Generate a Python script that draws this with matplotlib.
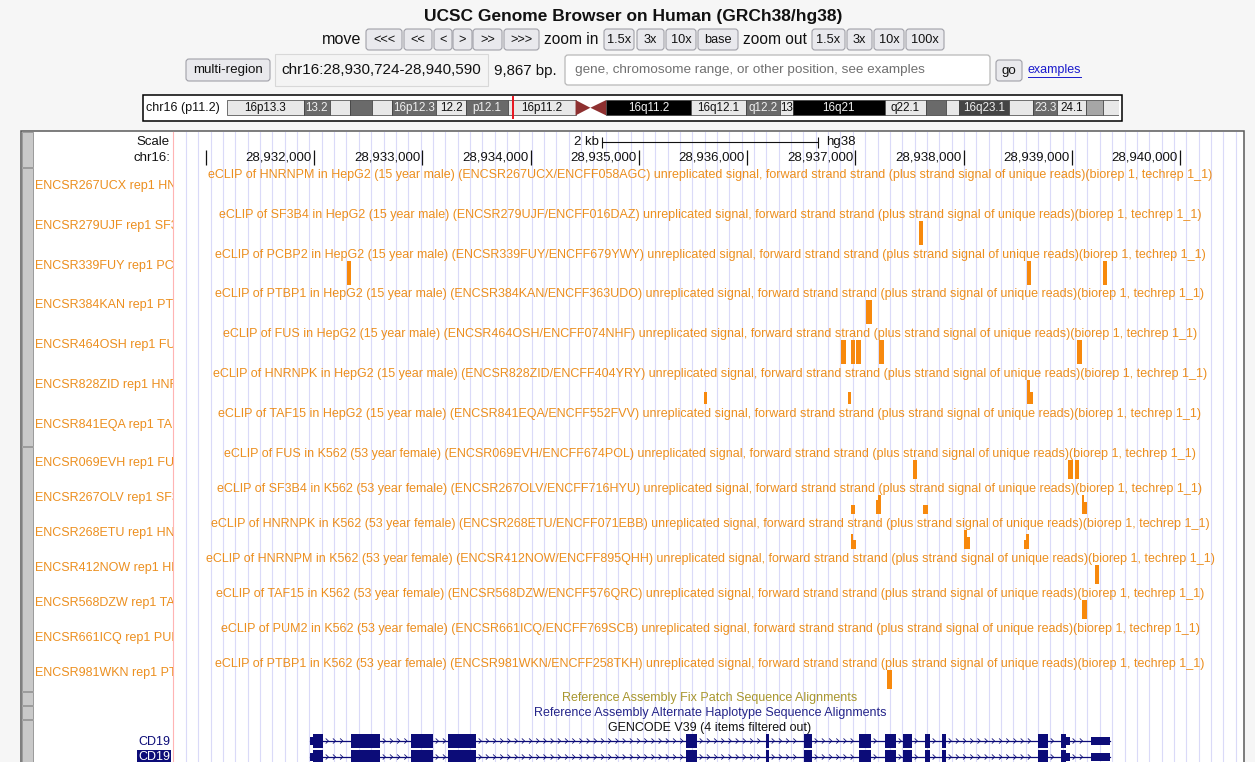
import matplotlib
matplotlib.use('Agg')
import matplotlib.pyplot as plt
from matplotlib.patches import Rectangle, FancyBboxPatch, Polygon
import numpy as np

plt.rcParams['font.family'] = ['Liberation Sans', 'DejaVu Sans']

W, H = 1255, 762

# browser window
chrom = 'chr16'
win_start, win_end = 28930724, 28940590
band_here = 'p11.2'

# chr16 cytobands (Mb)
band_start = [0.0, 7.8, 10.4, 12.5, 14.7, 16.7, 21.2, 24.2, 28.5, 35.3, 36.8, 38.4, 47.0,
              52.6, 56.0, 57.3, 66.6, 70.8, 72.8, 74.1, 79.2, 81.6, 84.1, 87.0, 88.7]
band_end = band_start[1:] + [90.338]
band_stain = ['gneg', 'gpos50', 'gneg', 'gpos50', 'gneg', 'gpos50', 'gneg', 'gpos50', 'gneg',
              'acen', 'acen', 'gvar', 'gneg', 'gpos50', 'gneg', 'gpos100', 'gneg', 'gpos50',
              'gneg', 'gpos75', 'gneg', 'gpos50', 'gneg', 'gpos25', 'gneg']
band_label = ['16p13.3', '13.2', '', '', '', '16p12.3', '12.2', 'p12.1', '16p11.2', '', '',
              '16q11.2', '16q12.1', 'q12.2', '13', '16q21', 'q22.1', '', '', '16q23.1', '',
              '23.3', '24.1', '', '']

# eCLIP signal tracks
cells = ['HepG2'] * 7 + ['K562'] * 7
proteins = ['HNRNPM', 'SF3B4', 'PCBP2', 'PTBP1', 'FUS', 'HNRNPK', 'TAF15',
            'FUS', 'SF3B4', 'HNRNPK', 'HNRNPM', 'TAF15', 'PUM2', 'PTBP1']
experiments = ['ENCSR267UCX', 'ENCSR279UJF', 'ENCSR339FUY', 'ENCSR384KAN', 'ENCSR464OSH',
               'ENCSR828ZID', 'ENCSR841EQA', 'ENCSR069EVH', 'ENCSR267OLV', 'ENCSR268ETU',
               'ENCSR412NOW', 'ENCSR568DZW', 'ENCSR661ICQ', 'ENCSR981WKN']
files = ['ENCFF058AGC', 'ENCFF016DAZ', 'ENCFF679YWY', 'ENCFF363UDO', 'ENCFF074NHF',
         'ENCFF404YRY', 'ENCFF552FVV', 'ENCFF674POL', 'ENCFF716HYU', 'ENCFF071EBB',
         'ENCFF895QHH', 'ENCFF576QRC', 'ENCFF769SCB', 'ENCFF258TKH']
donors = {'HepG2': '15 year male', 'K562': '53 year female'}

# (start, end, signal as fraction of view limit)
signals = [
    [],
    [(28937589, 28937626, 1.0)],
    [(28932305, 28932337, 1.0), (28938582, 28938619, 1.0), (28939289, 28939326, 1.0)],
    [(28937099, 28937155, 1.0)],
    [(28936868, 28936914, 1.0), (28936965, 28937002, 1.0), (28937011, 28937053, 1.0),
     (28937219, 28937265, 1.0), (28939044, 28939099, 1.0)],
    [(28935598, 28935626, 0.5), (28936937, 28936965, 0.5), (28938584, 28938610, 1.0),
     (28938610, 28938639, 0.5)],
    [],
    [(28937531, 28937573, 1.0), (28938968, 28939014, 1.0), (28939030, 28939070, 1.0)],
    [(28936958, 28937000, 0.45), (28937192, 28937213, 0.7), (28937213, 28937238, 1.0),
     (28937629, 28937672, 0.45), (28939092, 28939113, 1.0), (28939113, 28939138, 0.6)],
    [(28936965, 28936983, 0.75), (28936983, 28937006, 0.45), (28938005, 28938032, 1.0),
     (28938032, 28938060, 0.6), (28938559, 28938577, 0.45), (28938577, 28938608, 0.75)],
    [(28939212, 28939254, 1.0)],
    [(28939092, 28939138, 1.0)],
    [],
    [(28937290, 28937342, 1.0)],
]

# GENCODE V39 CD19 transcripts: exons (start, end) and coding span
gene_name = 'CD19'
exon_starts = [28931963, 28932342, 28932896, 28933238, 28935436, 28936175, 28936526, 28937034,
               28937275, 28937441, 28937644, 28937801, 28938688, 28938900, 28939178]
exon_ends = [28932083, 28932610, 28933099, 28933496, 28935538, 28936203, 28936600, 28937145,
             28937376, 28937524, 28937690, 28937838, 28938781, 28938983, 28939354]
cds_start, cds_end = 28931991, 28938946
n_transcripts = 2

ORANGE = '#f7890d'
ORANGE_TXT = '#ec8f1f'
NAVY = '#0c0c78'
GUIDE = '#dadaf8'
FS = 9.0

fig = plt.figure(figsize=(W / 100, H / 100), dpi=100)
fig.patch.set_facecolor('#f6f6f6')
page = fig.add_axes([0, 0, 1, 1])
page.set_xlim(0, W)
page.set_ylim(H, 0)
page.axis('off')
# text layer kept above every track axes
over = fig.add_axes([0, 0, 1, 1], zorder=5)
over.set_xlim(0, W)
over.set_ylim(H, 0)
over.axis('off')


def px_axes(x0, y0, x1, y1):
    ax = fig.add_axes([x0 / W, 1 - y1 / H, (x1 - x0) / W, (y1 - y0) / H])
    ax.axis('off')
    return ax


def button(x0, x1, y0, y1, label, fs=9.2):
    page.add_patch(FancyBboxPatch((x0, y0), x1 - x0, y1 - y0,
                                  boxstyle='round,pad=0,rounding_size=3',
                                  fc='#e9e9ed', ec='#a0a0a8', lw=0.8))
    page.text((x0 + x1) / 2, (y0 + y1) / 2 + 0.5, label, ha='center', va='center',
              fontsize=fs, color='#111')


# ---- header ----
page.text(633, 17, 'UCSC Genome Browser on Human (GRCh38/hg38)', ha='center', va='center',
          fontsize=12.5, fontweight='bold', color='#111')

page.text(361, 39.5, 'move', ha='right', va='center', fontsize=11.6, color='#111')
for lab, a, b in [('<<<', 366, 402), ('<<', 404, 432), ('<', 434, 452), ('>', 453, 472),
                  ('>>', 473, 502), ('>>>', 504, 539)]:
    button(a, b, 29, 50, lab)
page.text(571, 39.5, 'zoom in', ha='center', va='center', fontsize=11.2, color='#111')
for lab, a, b in [('1.5x', 604, 634), ('3x', 637, 664), ('10x', 666, 696), ('base', 698, 738)]:
    button(a, b, 29, 50, lab)
page.text(775, 39.5, 'zoom out', ha='center', va='center', fontsize=11.2, color='#111')
for lab, a, b in [('1.5x', 812, 845), ('3x', 847, 872), ('10x', 874, 904), ('100x', 906, 944)]:
    button(a, b, 29, 50, lab)

button(186, 270, 59, 81, 'multi-region', fs=9.6)
page.add_patch(Rectangle((275, 54), 213, 32, fc='#f4f4f4', ec='#d8d8d8', lw=0.8))
page.text(381.5, 70.5, f'{chrom}:{win_start:,}-{win_end:,}', ha='center', va='center',
          fontsize=11.0, color='#111')
page.text(494, 70.5, f'{win_end - win_start + 1:,} bp.', ha='left', va='center',
          fontsize=10.8, color='#111')
page.add_patch(FancyBboxPatch((565, 55), 425, 30, boxstyle='round,pad=0,rounding_size=3',
                              fc='white', ec='#b8b8b8', lw=0.9))
page.text(575, 70.5, 'gene, chromosome range, or other position, see examples', ha='left',
          va='center', fontsize=9.7, color='#707070')
button(996, 1022, 60, 81, 'go', fs=9.6)
page.text(1028, 70.5, 'examples', ha='left', va='center', fontsize=9, color='#1a1acc')
page.plot([1028, 1081], [77, 77], color='#1a1acc', lw=0.7)

# ---- ideogram ----
page.add_patch(Rectangle((143, 94.5), 979, 26.5, fc='white', ec='black', lw=1.1))
page.text(146, 108, f'{chrom} ({band_here})', ha='left', va='center', fontsize=9.0,
          color='#111')
ideo = px_axes(227, 94.5, 1119, 121)
ideo.set_xlim(0, band_end[-1])
ideo.set_ylim(1, 0)
shade = {'gneg': '#e8e8e8', 'gpos25': '#a6a6a6', 'gpos50': '#6a6a6a', 'gpos75': '#444444',
         'gpos100': '#000000', 'gvar': '#000000'}
top, bot = 0.21, 0.79
for s, e, st, lab, in zip(band_start, band_end, band_stain, band_label):
    if st == 'acen':
        continue
    ideo.add_patch(Rectangle((s, top), e - s, bot - top, fc=shade[st], ec='#3a3a3a', lw=0.5))
    if lab:
        dark = st in ('gpos50', 'gpos75', 'gpos100', 'gvar')
        ideo.text((s + e) / 2, 0.5, lab, ha='center', va='center', fontsize=8.4,
                  color='#f0f0f0' if dark else '#111')
acen = [(s, e) for s, e, st in zip(band_start, band_end, band_stain) if st == 'acen']
(p_s, p_e), (q_s, q_e) = acen
ideo.add_patch(Polygon([(p_s, top), (p_e, 0.5), (p_s, bot)], fc='#8e3030', ec='none'))
ideo.add_patch(Polygon([(q_e, top), (q_s, 0.5), (q_e, bot)], fc='#8e3030', ec='none'))
here_mb = (win_start + win_end) / 2e6
ideo.plot([here_mb, here_mb], [0.1, 0.9], color='#e8141e', lw=1.4)

# ---- track panel frame ----
page.add_patch(Rectangle((21, 131), 1223, 700, fc='white', ec='#5a5a5a', lw=1.1))
for y0, y1 in [(132, 167), (168, 446), (447, 691), (692, 705), (706, 719), (720, 800)]:
    page.add_patch(Rectangle((22, y0), 11, y1 - y0, fc='#c9c9c9', ec='#9a9a9a', lw=0.7))
page.plot([173, 173], [132, 762], color='#ffb4b4', lw=0.8)

px_per_bp = (1244 - 175.9) / (win_end - win_start + 1)
data_x0, data_x1 = 175.9, 1244
guides = px_axes(data_x0, 132, data_x1, 762)
guides.set_xlim(win_start, win_end + 1)
guides.set_ylim(0, 1)
for g in np.arange(win_start + 10 / px_per_bp, win_end, 12.35 / px_per_bp):
    guides.axvline(g, color=GUIDE, lw=0.8)

# ruler
ruler = px_axes(data_x0, 132, data_x1, 167)
ruler.set_xlim(win_start, win_end + 1)
ruler.set_ylim(167, 132)
over.text(170, 142, 'Scale', ha='right', va='center', fontsize=9.5, color='#111')
over.text(170, 158, f'{chrom}:', ha='right', va='center', fontsize=9.5, color='#111')
mid = (win_start + win_end) / 2
ruler.plot([mid - 1000, mid + 1000], [142, 142], color='#111', lw=0.8)
ruler.vlines([mid - 1000, mid + 1000], 137, 148, color='#111', lw=0.8)
ruler.text(mid - 1000 - 30, 142, '2 kb', ha='right', va='center', fontsize=9.5, color='#111')
ruler.text(mid + 1000 + 75, 142, 'hg38', ha='left', va='center', fontsize=9.5, color='#111')
for tk in range((win_start // 1000 + 1) * 1000, win_end, 1000):
    ruler.vlines(tk, 150, 165, color='#111', lw=0.9)
    if tk - 650 > win_start:
        ruler.text(tk - 20, 158, f'{tk:,}', ha='right', va='center', fontsize=9.5,
                   color='#111')

# signal tracks
labels_ax = px_axes(34, 132, 172.5, 762)
labels_ax.set_xlim(34, 172.5)
labels_ax.set_ylim(762, 132)
track_h = {'HepG2': 39.8, 'K562': 35.0}
sig_h = {'HepG2': 24.0, 'K562': 19.0}
title_y = 175.0
data_mid = (data_x0 + data_x1) / 2
for i in range(len(proteins)):
    cell = cells[i]
    title = (f'eCLIP of {proteins[i]} in {cell} ({donors[cell]}) ({experiments[i]}/{files[i]}) '
             'unreplicated signal, forward strand strand (plus strand signal of unique reads)'
             '(biorep 1, techrep 1_1)')
    over.text(data_mid, title_y, title, ha='center', va='center', fontsize=FS,
              color=ORANGE_TXT)
    sig_top = title_y + 6
    ax = px_axes(data_x0, sig_top, data_x1, sig_top + sig_h[cell])
    ax.set_xlim(win_start, win_end + 1)
    ax.set_ylim(0, 1)
    if signals[i]:
        st, en, val = zip(*signals[i])
        ax.bar(st, val, width=np.subtract(en, st), align='edge', color=ORANGE, lw=0)
    labels_ax.text(35, title_y + (11 if cell == 'HepG2' else 9),
                   f'{experiments[i]} rep1 {proteins[i]}', ha='left', va='center',
                   fontsize=FS, color=ORANGE_TXT, clip_on=True)
    title_y += track_h[cell]

# other tracks
over.text(data_mid, 698, 'Reference Assembly Fix Patch Sequence Alignments', ha='center',
          va='center', fontsize=FS, color='#a8962e')
over.text(data_mid, 713, 'Reference Assembly Alternate Haplotype Sequence Alignments',
          ha='center', va='center', fontsize=FS, color='#25258a')
over.text(data_mid, 727.5, 'GENCODE V39 (4 items filtered out)', ha='center', va='center',
          fontsize=FS, color='#111')

genes = px_axes(data_x0, 733, data_x1, 765)
genes.set_xlim(win_start, win_end + 1)
genes.set_ylim(1.5, -0.5)
chev_w = 2.4 / px_per_bp
for r in range(n_transcripts):
    genes.plot([exon_starts[0], exon_ends[-1]], [r, r], color=NAVY, lw=0.9)
    for a, b in zip(exon_ends[:-1], exon_starts[1:]):
        for c in np.arange(a + 3 / px_per_bp, b - 4 / px_per_bp, 7.2 / px_per_bp):
            genes.plot([c, c + chev_w, c], [r - 0.14, r, r + 0.14], color=NAVY, lw=0.6)
    for a, b in zip(exon_starts, exon_ends):
        lo, hi = max(a, cds_start), min(b, cds_end)
        if lo < hi:
            genes.add_patch(Rectangle((lo, r - 0.45), hi - lo, 0.9, fc=NAVY, ec='none'))
        if a < cds_start:
            genes.add_patch(Rectangle((a, r - 0.27), min(b, cds_start) - a, 0.54, fc=NAVY,
                                      ec='none'))
        if b > cds_end:
            genes.add_patch(Rectangle((max(a, cds_end), r - 0.27), b - max(a, cds_end), 0.54,
                                      fc=NAVY, ec='none'))
over.text(170, 742, gene_name, ha='right', va='center', fontsize=FS, color=NAVY)
page.add_patch(Rectangle((137, 750), 34, 14, fc=NAVY, ec='none'))
over.text(170, 757, gene_name, ha='right', va='center', fontsize=FS, color='white')

fig.savefig('out.png', dpi=100, facecolor=fig.get_facecolor())
